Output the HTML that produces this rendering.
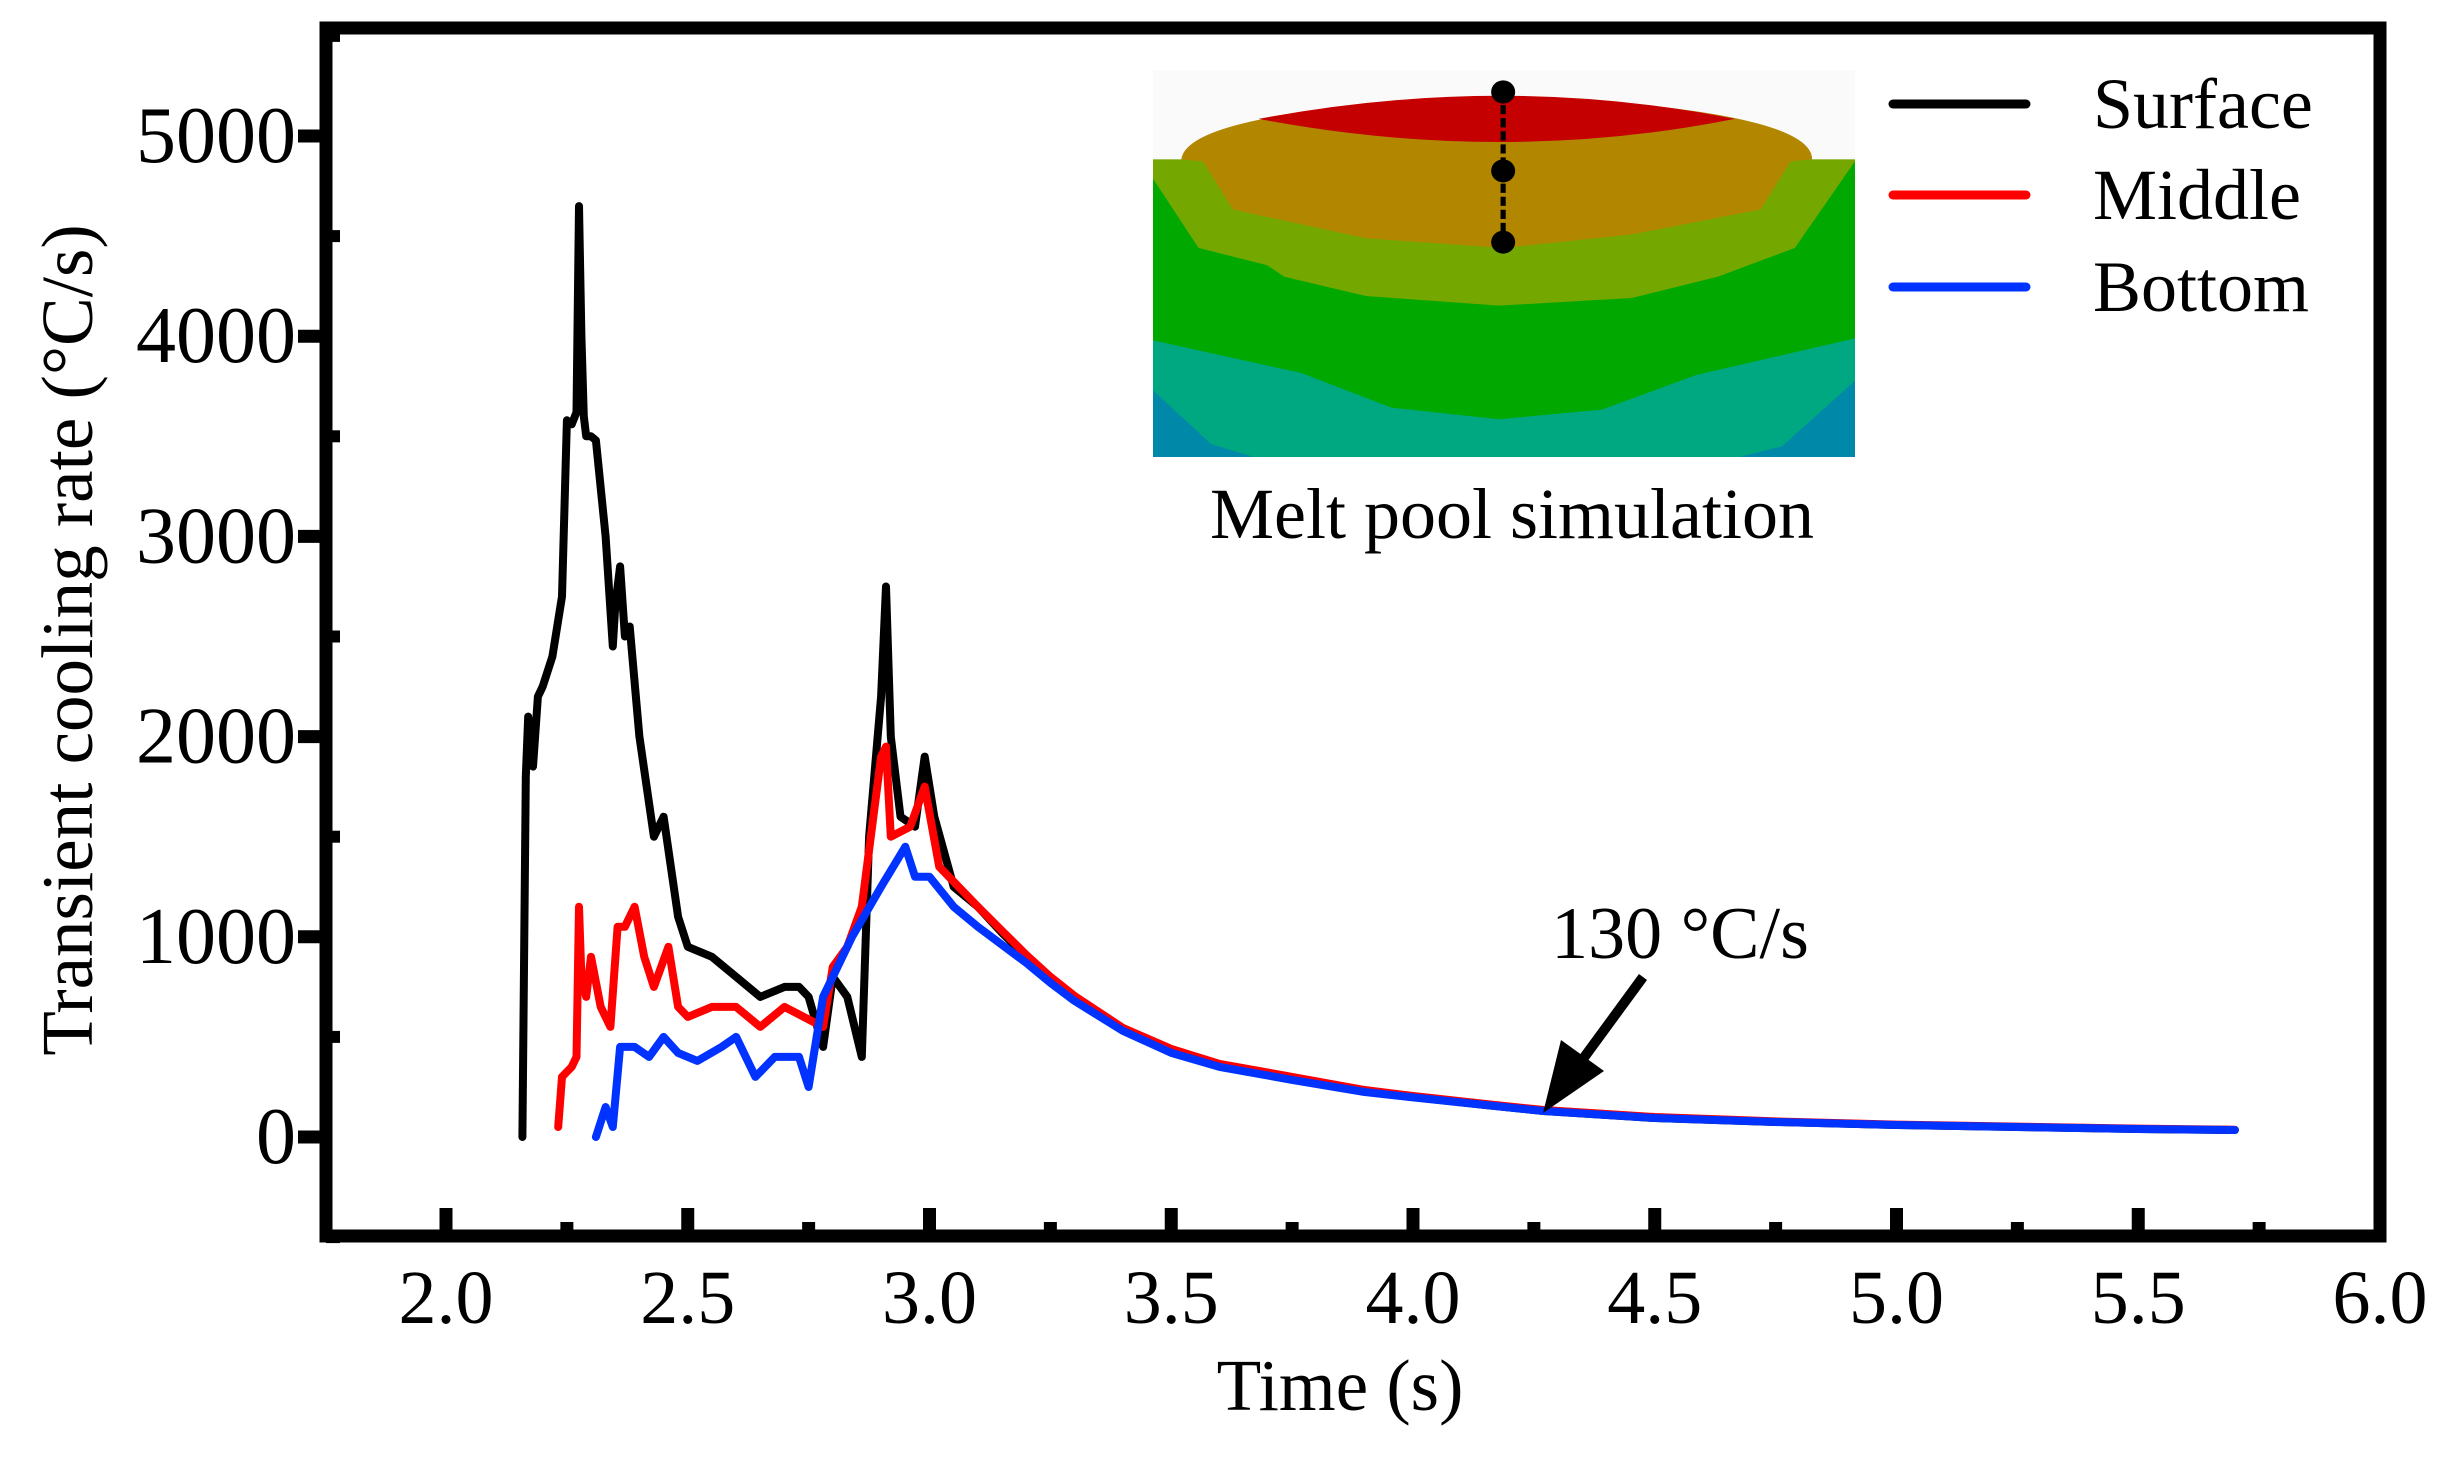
<!DOCTYPE html>
<html><head><meta charset="utf-8"><style>
html,body{margin:0;padding:0;background:#fff;}
svg{display:block;font-family:"Liberation Serif",serif;}
</style></head><body>
<svg id="chart" width="2444" height="1459" viewBox="0 0 2444 1459">
<g id="inset">
<svg x="1153" y="70" width="702" height="387" viewBox="62 188 818 1005" preserveAspectRatio="none">
<rect x="62" y="188" width="818" height="1005" fill="#fafafa"/>
<rect x="62" y="420" width="818" height="773" fill="#74a800"/>
<path d="M62,470 L115,650 L195,695 L215,725 L310,775 L465,800 L620,780 L720,725 L810,650 L880,425 L880,1193 L62,1193Z" fill="#00a800"/>
<path d="M62,890 L235,975 L340,1065 L465,1095 L585,1070 L695,980 L880,885 L880,1193 L62,1193Z" fill="#00a882"/>
<path d="M62,1020 L130,1160 L180,1193 L62,1193Z" fill="#0088a8"/>
<path d="M880,995 L795,1165 L745,1193 L880,1193Z" fill="#0088a8"/>
<path d="M95,420 Q100,330 280,285 Q470,245 660,285 Q830,330 830,420 L805,425 L770,550 L620,615 L470,650 L310,625 L155,550 L120,425 Z" fill="#b38600"/>
<path d="M185,315 Q470,195 740,315 Q470,435 185,315 Z" fill="#c40000"/>
<line x1="470" y1="245" x2="470" y2="635" stroke="#000" stroke-width="6" stroke-dasharray="24,10"/>
<ellipse cx="470" cy="245" rx="14" ry="30" fill="#000"/>
<ellipse cx="470" cy="450" rx="14" ry="30" fill="#000"/>
<ellipse cx="470" cy="635" rx="14" ry="30" fill="#000"/>
</svg>
</g>
<text x="1512" y="538" font-size="72" text-anchor="middle">Melt pool simulation</text>
<g id="axes"></g>
<g id="series"></g>
<g id="legend"></g>
<text x="1680" y="958" font-size="74" text-anchor="middle">130 °C/s</text>
<g>
<line x1="1643" y1="977" x2="1580" y2="1063" stroke="#000" stroke-width="10"/>
<polygon points="1543,1113 1561,1040 1604,1071" fill="#000"/>
</g>
</svg>
<script>
const xTicks=[2.0,2.5,3.0,3.5,4.0,4.5,5.0,5.5,6.0];
const xTickLabels=["2.0","2.5","3.0","3.5","4.0","4.5","5.0","5.5","6.0"];
const yTicks=[0,1000,2000,3000,4000,5000];
const yTickLabels=["0","1000","2000","3000","4000","5000"];
const surfaceT=[2.158,2.165,2.17,2.18,2.19,2.2,2.22,2.24,2.25,2.26,2.27,2.275,2.28,2.285,2.29,2.30,2.31,2.33,2.345,2.35,2.36,2.37,2.38,2.40,2.43,2.45,2.48,2.5,2.55,2.6,2.65,2.7,2.73,2.75,2.78,2.8,2.83,2.86,2.875,2.9,2.91,2.92,2.94,2.97,2.99,3.01,3.05,3.1,3.15,3.2,3.25,3.3,3.4,3.5,3.6,3.75,3.9,4.0,4.15,4.27,4.5,4.75,5.0,5.25,5.5,5.7];
const surfaceV=[0,1800,2100,1850,2200,2250,2400,2700,3580,3560,3620,4650,4000,3600,3500,3500,3480,3000,2450,2650,2850,2500,2550,2000,1500,1600,1100,950,900,800,700,750,750,700,450,800,700,400,1500,2200,2750,2000,1600,1550,1900,1600,1250,1150,1020,900,790,700,540,430,360,290,230,200,160,130,95,75,60,50,40,35];
const middleT=[2.232,2.24,2.26,2.27,2.275,2.28,2.29,2.30,2.32,2.34,2.355,2.37,2.39,2.41,2.43,2.46,2.48,2.5,2.55,2.6,2.65,2.7,2.74,2.78,2.8,2.83,2.86,2.9,2.91,2.92,2.96,2.99,3.02,3.1,3.15,3.2,3.25,3.3,3.4,3.5,3.6,3.75,3.9,4.0,4.15,4.27,4.5,4.75,5.0,5.25,5.5,5.7];
const middleV=[50,300,350,400,1150,800,700,900,650,550,1050,1050,1150,900,750,950,650,600,650,650,550,650,600,550,850,950,1150,1900,1950,1500,1550,1750,1350,1150,1030,910,800,705,545,440,365,300,235,205,165,135,100,78,62,52,42,36];
const bottomT=[2.31,2.33,2.345,2.36,2.39,2.42,2.45,2.48,2.52,2.57,2.6,2.64,2.68,2.73,2.75,2.78,2.84,2.9,2.95,2.97,3.0,3.05,3.1,3.15,3.2,3.25,3.3,3.4,3.5,3.6,3.75,3.9,4.0,4.15,4.27,4.5,4.75,5.0,5.25,5.5,5.7];
const bottomV=[0,150,50,450,450,400,500,420,380,450,500,300,400,400,250,700,1000,1250,1450,1300,1300,1150,1050,960,870,770,680,530,420,350,285,225,198,160,130,95,75,60,50,40,35];

const NS="http://www.w3.org/2000/svg";
const X0=446,X1=2380,T0=2.0,T1=6.0;
const Y0=1137,Y1=136,V0=0,V1=5000;
function xs(t){return X0+(t-T0)*(X1-X0)/(T1-T0);}
function ys(v){return Y0+(v-V0)*(Y1-Y0)/(V1-V0);}
function mk(tag,attrs,parent){const e=document.createElementNS(NS,tag);for(const k in attrs)e.setAttribute(k,attrs[k]);parent.appendChild(e);return e;}

const axes=document.getElementById('axes');
const L=326,R=2380,T=28,B=1236;
const frame=mk('rect',{x:L,y:T,width:R-L,height:B-T,fill:'none',stroke:'#000','stroke-width':13},axes);


xTicks.forEach((t,i)=>{
  const x=xs(t);
  const tk=mk('line',{x1:x,y1:B,x2:x,y2:B-28,stroke:'#000','stroke-width':13},axes);
  
  
  if(t<T1){
    const mx=xs(t+0.25);
    const m=mk('line',{x1:mx,y1:B,x2:mx,y2:B-14,stroke:'#000','stroke-width':13},axes);
    
    
  }
  const lb=mk('text',{x:x,y:1323,'font-size':76,'text-anchor':'middle'},axes);
  lb.textContent=xTickLabels[i];
  
  
});
yTicks.forEach((v,i)=>{
  const y=ys(v);
  const tk=mk('line',{x1:L,y1:y,x2:L-28,y2:y,stroke:'#000','stroke-width':13},axes);
  
  
  const my=ys(v+500);
  const m=mk('line',{x1:L,y1:my,x2:L+14,y2:my,stroke:'#000','stroke-width':12},axes);
  
  
  const lb=mk('text',{x:296,y:y+26,'font-size':80,'text-anchor':'end'},axes);
  lb.textContent=yTickLabels[i];
  
  
});
{const my=ys(-500);const m=mk('line',{x1:L,y1:my,x2:L+14,y2:my,stroke:'#000','stroke-width':12},axes);

}
const yt=mk('text',{x:0,y:0,'font-size':73,'text-anchor':'middle',transform:'translate(92,640) rotate(-90)'},axes);
yt.textContent='Transient cooling rate (°C/s)';


const xt=mk('text',{x:1340,y:1410,'font-size':73,'text-anchor':'middle'},axes);
xt.textContent='Time (s)';



const series=document.getElementById('series');
function draw(ts,vs,color,name){
  const d=ts.map((t,i)=>(i?'L':'M')+xs(t).toFixed(1)+','+ys(vs[i]).toFixed(1)).join(' ');
  const p=mk('path',{d:d,fill:'none',stroke:color,'stroke-width':8,'stroke-linejoin':'round','stroke-linecap':'round'},series);
  
  
}
draw(surfaceT,surfaceV,'#000','surface-line');
draw(middleT,middleV,'#ff0000','middle-line');
draw(bottomT,bottomV,'#0033ff','bottom-line');

const legend=document.getElementById('legend');
[['Surface','#000',104],['Middle','#ff0000',195],['Bottom','#0033ff',287]].forEach(([n,c,y])=>{
  const g=mk('g',{},legend);
  
  
  mk('line',{x1:1893,y1:y,x2:2026,y2:y,stroke:c,'stroke-width':9,'stroke-linecap':'round'},g);
  const t=mk('text',{x:2093,y:y+24,'font-size':72},g);
  t.textContent=n;
});
</script>
</body></html>
